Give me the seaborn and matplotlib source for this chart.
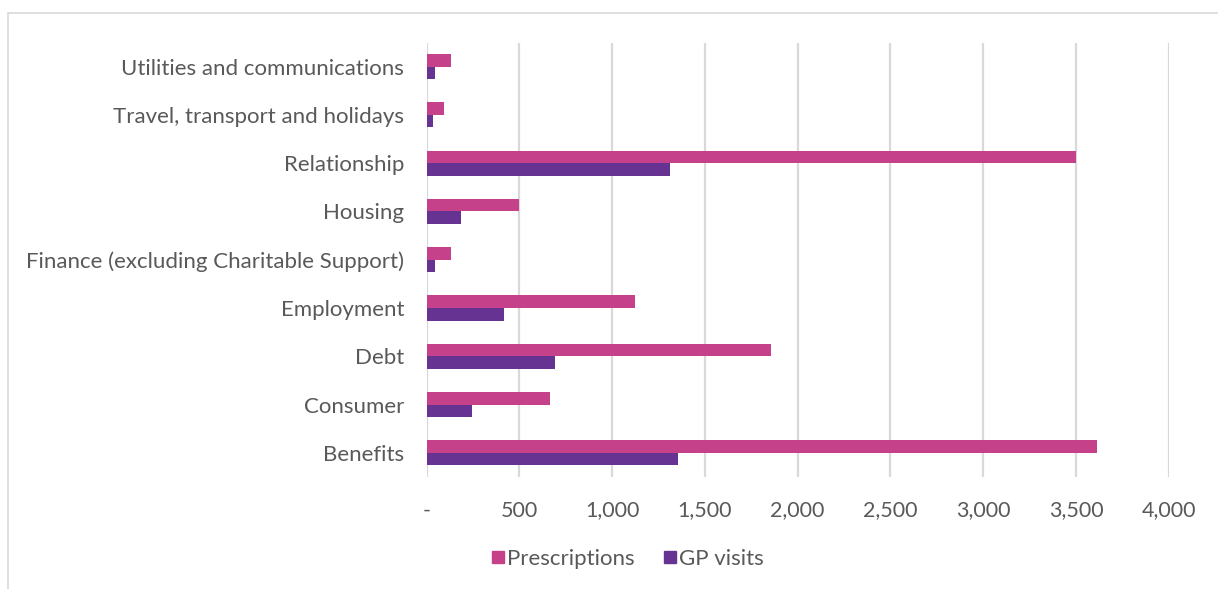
import matplotlib
matplotlib.use("Agg")
import matplotlib.pyplot as plt
from matplotlib.lines import Line2D
from matplotlib.ticker import FuncFormatter
import seaborn as sns
import pandas as pd

categories = [
    "Utilities and communications",
    "Travel, transport and holidays",
    "Relationship",
    "Housing",
    "Finance (excluding Charitable Support)",
    "Employment",
    "Debt",
    "Consumer",
    "Benefits",
]
prescriptions = [130, 96, 3500, 500, 130, 1125, 1855, 668, 3615]
gp_visits = [47, 33, 1310, 184, 47, 420, 693, 247, 1353]
series_names = ["Prescriptions", "GP visits"]
series_colors = ["#C5418A", "#673393"]
x_ticks = [0, 500, 1000, 1500, 2000, 2500, 3000, 3500, 4000]

df = pd.DataFrame({
    "category": categories * 2,
    "value": prescriptions + gp_visits,
    "series": [series_names[0]] * len(categories) + [series_names[1]] * len(categories),
})

sns.set_theme(style="white")
plt.rcParams["font.family"] = ["Lato", "DejaVu Sans"]
text_color = "#595959"

fig = plt.figure(figsize=(12.18, 5.89), dpi=100)
ax = fig.add_axes([0.3502, 0.1902, 0.6094, 0.7376])

sns.barplot(
    data=df, y="category", x="value", hue="series",
    order=categories, hue_order=series_names,
    palette=series_colors, saturation=1, width=0.52, gap=0,
    edgecolor="none", linewidth=0, ax=ax, legend=False,
)

ax.set_xlim(0, 4000)
ax.set_xticks(x_ticks)
ax.xaxis.set_major_formatter(FuncFormatter(lambda v, _: "-" if v == 0 else f"{int(v):,}"))
ax.grid(axis="x", color="#D9D9D9", linewidth=1.6)
ax.set_axisbelow(True)
for s in ax.spines.values():
    s.set_visible(False)
ax.set_xlabel("")
ax.set_ylabel("")
ax.tick_params(axis="y", length=0, pad=16, labelsize=16, labelcolor=text_color)
ax.tick_params(axis="x", length=0, pad=17, labelsize=15.5, labelcolor=text_color)

handles = [Line2D([], [], marker="s", linestyle="none", markersize=8.5,
                  markerfacecolor=c, markeredgecolor=c) for c in series_colors]
fig.legend(handles, series_names, loc="center", bbox_to_anchor=(0.514, 0.051),
           ncol=2, frameon=False, fontsize=16, labelcolor=text_color,
           handletextpad=0.0, columnspacing=1.2, handlelength=0.8)

# Light frame around the chart area
fig.add_artist(Line2D([8 / 1218, 1.01], [1 - 13 / 589, 1 - 13 / 589],
                      transform=fig.transFigure, color="#D9D9D9", linewidth=1.2))
fig.add_artist(Line2D([8 / 1218, 8 / 1218], [1 - 13 / 589, -0.01],
                      transform=fig.transFigure, color="#D9D9D9", linewidth=1.2))

fig.savefig("out.png", dpi=100, facecolor="white")
